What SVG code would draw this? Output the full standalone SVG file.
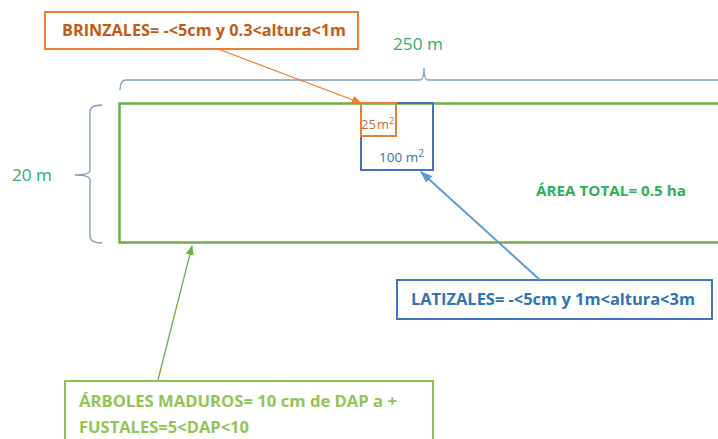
<svg xmlns="http://www.w3.org/2000/svg" width="718" height="439" viewBox="0 0 718 439">
<defs>
<style>
text{font-family:"Open Sans","Liberation Sans",sans-serif;}
.b{font-weight:bold;}
.brace{fill:none;stroke:#7f9cbf;stroke-width:1.3;}
</style>
<marker id="ao" markerWidth="10" markerHeight="8" refX="9" refY="4" orient="auto" markerUnits="userSpaceOnUse"><path d="M0,0 L10,4 L0,8 Z" fill="#ed7d31"/></marker>
<marker id="ab" markerWidth="12" markerHeight="9" refX="11" refY="4.5" orient="auto" markerUnits="userSpaceOnUse"><path d="M0,0 L12,4.5 L0,9 Z" fill="#5b9bd5"/></marker>
<marker id="ag" markerWidth="10" markerHeight="8" refX="9" refY="4" orient="auto" markerUnits="userSpaceOnUse"><path d="M0,0 L10,4 L0,8 Z" fill="#70ad47"/></marker>
</defs>
<rect width="718" height="439" fill="#fff"/>
<g id="area">
<rect x="119.5" y="103.5" width="610" height="139" fill="none" stroke="#70ad47" stroke-width="2.5"/>
<text x="536" y="196" class="b" font-size="15" fill="#2eaf5a" textLength="150" lengthAdjust="spacingAndGlyphs">ÁREA TOTAL= 0.5 ha</text>
</g>
<g id="dim-top">
<path class="brace" d="M120,90 Q120,80 126,80 L420,80 Q424,80 424,68 Q424,80 428,80 L718,80"/>
<text x="393" y="50" font-size="15.5" fill="#2eaf6a" textLength="50" lengthAdjust="spacingAndGlyphs">250 m</text>
</g>
<g id="dim-left">
<path class="brace" d="M102,105 Q90,105 90,112 L90,170 Q90,175 75,175 Q90,175 90,180 L90,236 Q90,243 102,243"/>
<text x="12" y="181" font-size="15.5" fill="#2eaf6a" textLength="40" lengthAdjust="spacingAndGlyphs">20 m</text>
</g>
<g id="parcela100">
<rect x="361" y="103" width="72" height="67" fill="none" stroke="#4472c4" stroke-width="2"/>
<text x="379" y="162" font-size="13.5" fill="#2e75b6" textLength="45" lengthAdjust="spacingAndGlyphs">100 m<tspan font-size="10" dy="-5">2</tspan></text>
</g>
<g id="parcela25">
<rect x="361" y="103" width="35" height="33" fill="none" stroke="#ed7d31" stroke-width="2"/>
<text x="361" y="129" font-size="13" fill="#c0703a">25<tspan dx="1">m</tspan><tspan font-size="9.5" dy="-5">2</tspan></text>
</g>
<g id="brinzales">
<rect x="45" y="12" width="313" height="37" fill="#fff" stroke="#ed7d31" stroke-width="2"/>
<text x="62" y="36" class="b" font-size="16" fill="#c55a11" textLength="284" lengthAdjust="spacingAndGlyphs">BRINZALES= -&lt;5cm y 0.3&lt;altura&lt;1m</text>
</g>
<g id="latizales">
<rect x="397" y="280" width="315" height="39" fill="#fff" stroke="#4472c4" stroke-width="2"/>
<text x="411" y="305" class="b" font-size="16" fill="#2e75b6" textLength="284" lengthAdjust="spacingAndGlyphs">LATIZALES= -&lt;5cm y 1m&lt;altura&lt;3m</text>
</g>
<g id="arboles">
<rect x="65" y="381" width="368" height="70" fill="#fff" stroke="#8cc152" stroke-width="2"/>
<text x="79" y="407" class="b" font-size="16" fill="#92c453" textLength="318" lengthAdjust="spacingAndGlyphs">ÁRBOLES MADUROS= 10 cm de DAP a +</text>
<text x="79" y="433" class="b" font-size="16" fill="#92c453" textLength="170" lengthAdjust="spacingAndGlyphs">FUSTALES=5&lt;DAP&lt;10</text>
</g>
<g id="connectors">
<line x1="218" y1="49" x2="361" y2="103" stroke="#ed7d31" stroke-width="1.3" marker-end="url(#ao)"/>
<line x1="540" y1="280" x2="421" y2="172" stroke="#5b9bd5" stroke-width="2" marker-end="url(#ab)"/>
<line x1="158" y1="380" x2="192" y2="246" stroke="#70ad47" stroke-width="1.3" marker-end="url(#ag)"/>
</g>
</svg>
